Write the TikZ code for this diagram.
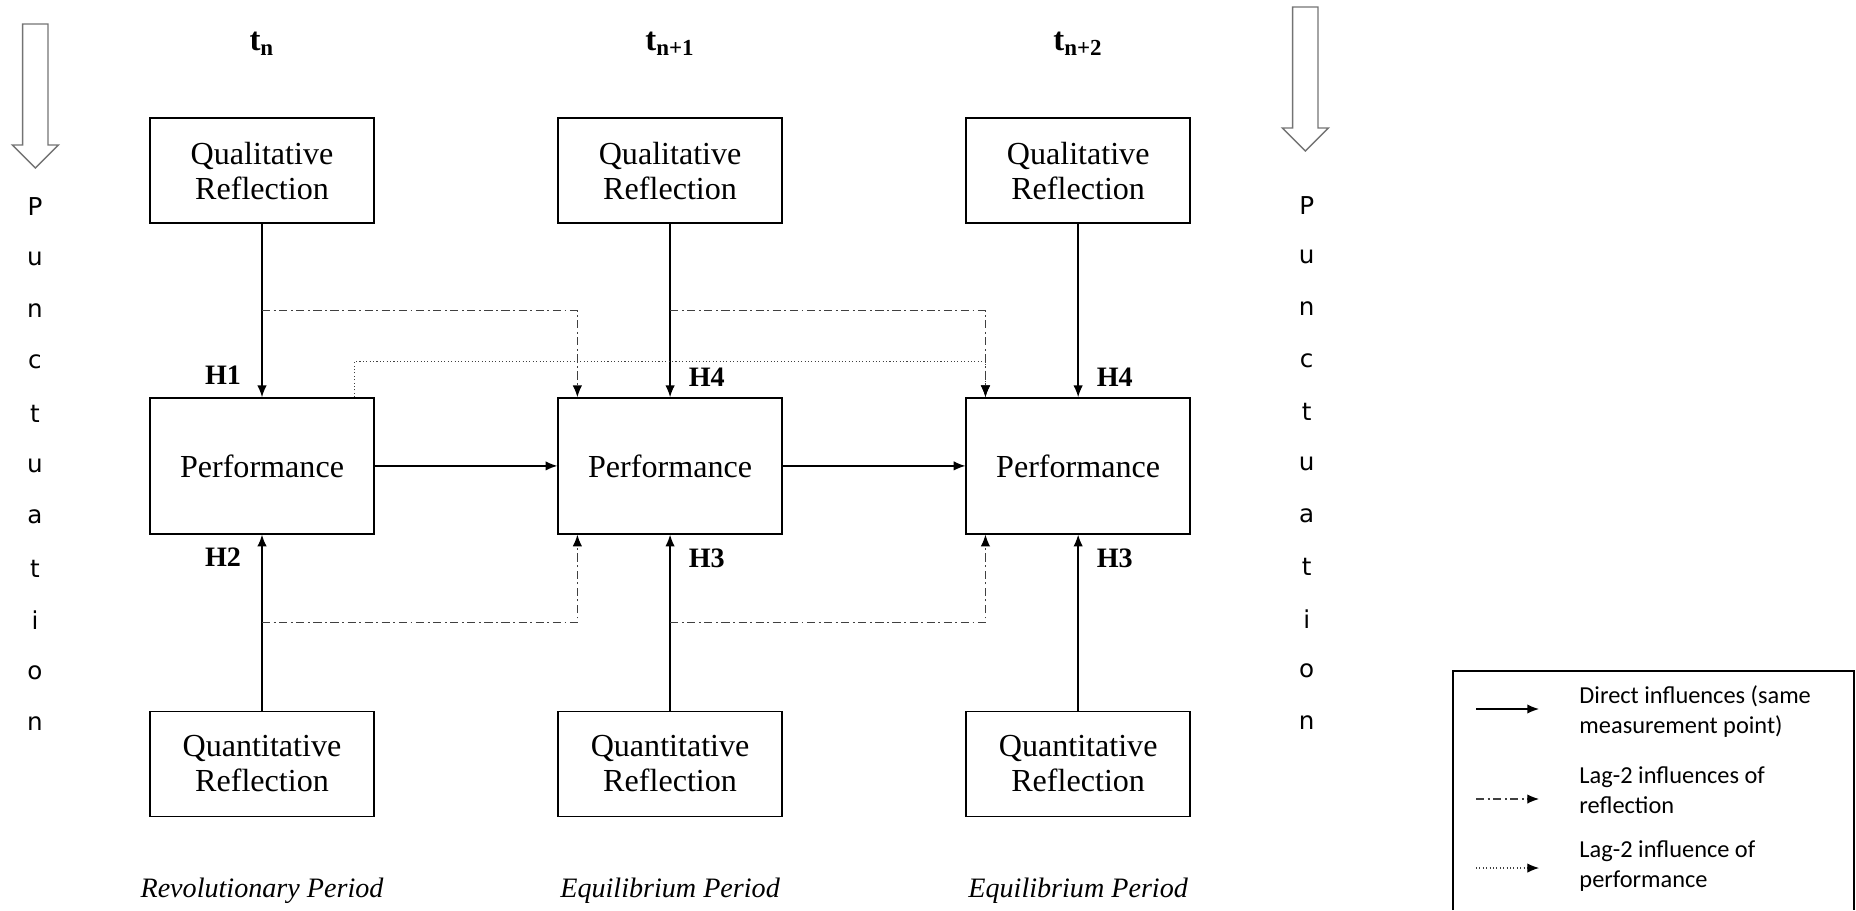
\documentclass[tikz,border=0pt]{standalone}
\usepackage{fontspec}
\setmainfont{Liberation Serif}
\newfontfamily\legendfont{Carlito}
\newfontfamily\punctfont{DejaVu Sans}
\usetikzlibrary{arrows.meta, positioning, calc}

\tikzset{
    block/.style={draw, line width=0.6pt, minimum width=3.36cm, align=center, inner sep=0pt,
        font=\fontsize{13.7}{15}\selectfont},
    refl/.style={block, minimum height=1.575cm},
    perfbox/.style={block, minimum height=2.04cm},
    direct/.style={-{Latex[length=5pt,width=4pt]}, line width=0.6pt},
    lagref/.style={-{Latex[length=5pt,width=4pt,color=black]}, line width=0.5pt, black!75,
        dash pattern=on 3.5pt off 1.5pt on 0.8pt off 1.5pt},
    lagperf/.style={-{Latex[length=5pt,width=4pt,color=black]}, line width=0.45pt, black!75, densely dotted},
    hyp/.style={font=\fontsize{12}{12}\selectfont\bfseries},
    tlabel/.style={font=\fontsize{14}{14}\selectfont\bfseries},
    period/.style={font=\fontsize{12}{12}\selectfont\itshape},
    punct/.style={font=\punctfont\fontsize{10.5}{12}\selectfont, inner sep=0pt},
    legtext/.style={anchor=west, align=left, inner sep=0pt,
        font=\legendfont\fontsize{10.4}{12.8}\selectfont}
}

\begin{document}
\begin{tikzpicture}
    \useasboundingbox (0,0) rectangle (27.84,-13.65);

    % three measurement points
    \node[refl] (qual1) at (3.93,-2.56) {Qualitative\\Reflection};
    \node[refl, right=2.74cm of qual1] (qual2) {Qualitative\\Reflection};
    \node[refl, right=2.74cm of qual2] (qual3) {Qualitative\\Reflection};

    \node[perfbox, below=2.6cm of qual1] (perf1) {Performance};
    \node[perfbox, below=2.6cm of qual2] (perf2) {Performance};
    \node[perfbox, below=2.6cm of qual3] (perf3) {Performance};

    \node[refl, below=2.64cm of perf1] (quant1) {Quantitative\\Reflection};
    \node[refl, below=2.64cm of perf2] (quant2) {Quantitative\\Reflection};
    \node[refl, below=2.64cm of perf3] (quant3) {Quantitative\\Reflection};

    \node[tlabel] (t1) at ($(qual1.north) + (0, 1.11)$) {t\textsubscript{n}};
    \node[tlabel] (t2) at ($(qual2.north) + (0, 1.11)$) {t\textsubscript{n+1}};
    \node[tlabel] (t3) at ($(qual3.north) + (0, 1.11)$) {t\textsubscript{n+2}};

    \node[period] (per1) at ($(quant1.south) + (0, -1.1)$) {Revolutionary Period};
    \node[period] (per2) at ($(quant2.south) + (0, -1.1)$) {Equilibrium Period};
    \node[period] (per3) at ($(quant3.south) + (0, -1.1)$) {Equilibrium Period};

    % direct influences
    \draw[direct] (qual1) -- (perf1);
    \draw[direct] (qual2) -- (perf2);
    \draw[direct] (qual3) -- (perf3);
    \draw[direct] (quant1) -- (perf1);
    \draw[direct] (quant2) -- (perf2);
    \draw[direct] (quant3) -- (perf3);
    \draw[direct] (perf1) -- (perf2);
    \draw[direct] (perf2) -- (perf3);

    \node[hyp] (h1) at ($(perf1.north) + (-0.585, 0.33)$) {H1};
    \node[hyp] (h2) at ($(perf1.south) + (-0.585, -0.345)$) {H2};
    \node[hyp] (h4a) at ($(perf2.north) + (0.55, 0.3)$) {H4};
    \node[hyp] (h3a) at ($(perf2.south) + (0.55, -0.36)$) {H3};
    \node[hyp] (h4b) at ($(perf3.north) + (0.55, 0.3)$) {H4};
    \node[hyp] (h3b) at ($(perf3.south) + (0.55, -0.36)$) {H3};

    % lag-2 influences
    \draw[lagref] ($(qual1.south)!0.5!(perf1.north)$) -| ([xshift=0.3cm]perf2.north west);
    \draw[lagref] ($(qual2.south)!0.5!(perf2.north)$) -| ([xshift=0.3cm]perf3.north west);
    \draw[lagref] ($(quant1.north)!0.5!(perf1.south)$) -| ([xshift=0.3cm]perf2.south west);
    \draw[lagref] ($(quant2.north)!0.5!(perf2.south)$) -| ([xshift=0.3cm]perf3.south west);
    \draw[lagperf] ([xshift=-0.3cm]perf1.north east) -- ++(0, 0.54) -| ([xshift=0.3cm]perf3.north west);

    % punctuation arrows
    \foreach \ax/\ay in {0.53/-0.36, 19.58/-0.105} {
        \draw[line width=0.6pt, black!55] (\ax-0.19, \ay) -- (\ax-0.19, \ay-1.815) -- (\ax-0.345, \ay-1.815)
            -- (\ax, \ay-2.16) -- (\ax+0.345, \ay-1.815) -- (\ax+0.19, \ay-1.815) -- (\ax+0.19, \ay) -- cycle;
    }
    \foreach \ch [count=\i] in {P,u,n,c,t,u,a,t,i,o,n} {
        \node[punct] (pl\i) at (0.525, {-3.105-0.7755*(\i-1)}) {\ch};
        \node[punct] (pr\i) at (19.6, {-3.08-0.7755*(\i-1)}) {\ch};
    }

    % legend
    \draw[line width=0.6pt] (21.795,-13.65) |- (27.81,-10.065) -- (27.81,-13.65);
    \node[legtext] (leg1) at (23.685,-10.68) {Direct influences (same\\measurement point)};
    \node[legtext] (leg2) at (23.685,-11.85) {Lag-2 influences of\\reflection};
    \node[legtext] (leg3) at (23.685,-12.99) {Lag-2 influence of\\performance};
    \draw[direct] ($(leg1.west) + (-1.545, 0.045)$) -- ++(0.945, 0);
    \draw[lagref] ($(leg2.west) + (-1.545, -0.135)$) -- ++(0.945, 0);
    \draw[lagperf] ($(leg3.west) + (-1.545, -0.03)$) -- ++(0.945, 0);
\end{tikzpicture}
\end{document}
